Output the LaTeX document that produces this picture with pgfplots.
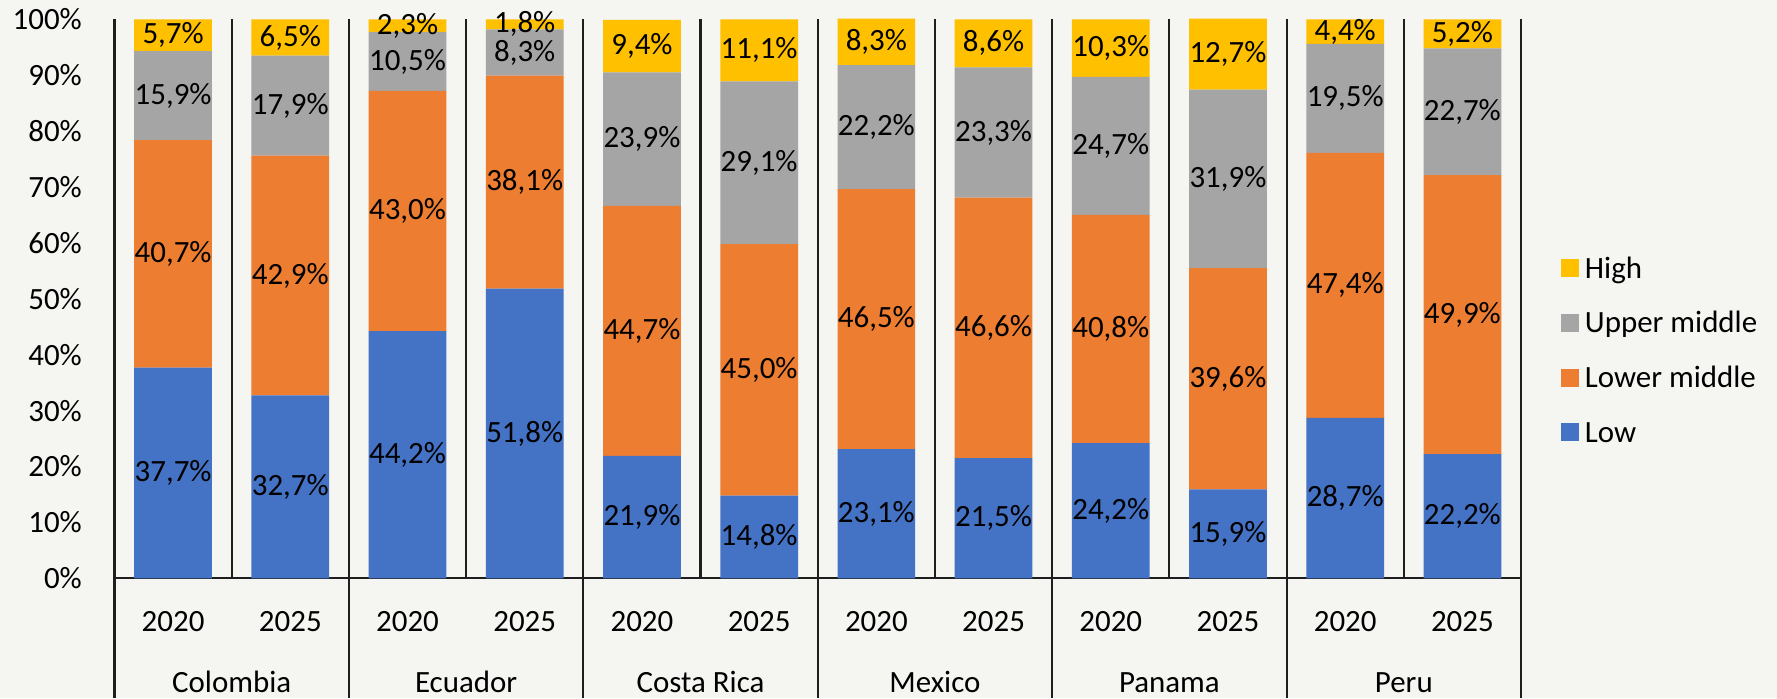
\documentclass[border=0pt]{standalone}
\usepackage{pgfplots}
\pgfplotsset{compat=1.18}
\usepackage{pgfplotstable}
\usepackage{fontspec}
\setmainfont{Carlito}

\definecolor{bgc}{RGB}{245,245,241}
\definecolor{cLow}{RGB}{68,114,196}
\definecolor{cLm}{RGB}{237,125,49}
\definecolor{cUm}{RGB}{165,165,165}
\definecolor{cHigh}{RGB}{255,192,0}
\definecolor{axc}{RGB}{30,30,30}
\newcommand{\cf}{\fontsize{8.8pt}{10.5pt}\selectfont}

% income-class shares, Colombia..Peru, 2020/2025 per country
\pgfplotstableread{
x  low  lm   um   high
0  37.7 40.7 15.9 5.7
1  32.7 42.9 17.9 6.5
2  44.2 43.0 10.5 2.3
3  51.8 38.1 8.3  1.8
4  21.9 44.7 23.9 9.4
5  14.8 45.0 29.1 11.1
6  23.1 46.5 22.2 8.3
7  21.5 46.6 23.3 8.6
8  24.2 40.8 24.7 10.3
9  15.9 39.6 31.9 12.7
10 28.7 47.4 19.5 4.4
11 22.2 49.9 22.7 5.2
}\shares

\pgfplotsset{
  seg/.style={fill=#1, draw=none,
    legend image code/.code={\fill[##1] (0mm,-0.9mm) rectangle (1.8mm,0.9mm);}},
}

\begin{document}
\cf
\begin{tikzpicture}
\path[use as bounding box, fill=bgc] (-11.45mm,-12mm) rectangle (166.25mm,57.83mm);
\begin{axis}[
    at={(0,0)}, anchor=south west,
    scale only axis, width=140.65mm, height=55.9mm,
    ybar stacked, bar width=0.663,
    xmin=-0.5, xmax=11.5, ymin=0, ymax=100,
    clip=false,
    axis line style={draw=none},
    major tick length=0pt, tick style={draw=none},
    /pgf/number format/assume math mode=true,
    ytick={0,10,...,100},
    yticklabels={0\%,10\%,20\%,30\%,40\%,50\%,60\%,70\%,80\%,90\%,100\%},
    yticklabel style={anchor=east, inner sep=0pt, xshift=-3.2mm, font=\cf},
    xtick={0,...,11},
    xticklabels={2020,2025,2020,2025,2020,2025,2020,2025,2020,2025,2020,2025},
    xticklabel style={anchor=base, inner sep=0pt, yshift=-5.35mm, font=\cf},
    point meta=explicit,
    nodes near coords={\pgfmathprintnumber[fixed,fixed zerofill,precision=1,use comma,assume math mode=true]{\pgfplotspointmeta}\%},
    every node near coord/.append style={anchor=center, inner sep=0pt, font=\cf, text=black},
    reverse legend,
    legend style={at={(1.0284,0.408)}, anchor=west, draw=none, fill=none,
      inner sep=0pt, outer sep=0pt, row sep=2.87mm, column sep=0.6mm, font=\cf,
      nodes={inner sep=0pt, text height=2.3mm, text depth=0.3mm, anchor=west},
      cells={anchor=west}},
]
\addplot[seg=cLow] table[x=x, y=low, meta=low] {\shares};
\addlegendentry{Low}
\addplot[seg=cLm] table[x=x, y=lm, meta=lm] {\shares};
\addlegendentry{Lower middle}
\addplot[seg=cUm] table[x=x, y=um, meta=um] {\shares};
\addlegendentry{Upper middle}
\addplot[seg=cHigh] table[x=x, y=high, meta=high] {\shares};
\addlegendentry{High}

% separators
\draw[axc, line width=0.6pt] (axis cs:-0.5,0) -- (axis cs:11.5,0);
\pgfplotsinvokeforeach{0.5,2.5,4.5,6.5,8.5,10.5}{
  \draw[axc, line width=0.6pt] (axis cs:#1,0) -- (axis cs:#1,100);
}
\pgfplotsinvokeforeach{-0.5,1.5,3.5,5.5,7.5,9.5,11.5}{
  \draw[axc, line width=0.6pt] (axis cs:#1,100) -- ([yshift=-12mm]axis cs:#1,0);
}
\node[anchor=base, font=\cf, yshift=-11.4mm] at (axis cs:0.5,0) {Colombia};
\node[anchor=base, font=\cf, yshift=-11.4mm] at (axis cs:2.5,0) {Ecuador};
\node[anchor=base, font=\cf, yshift=-11.4mm] at (axis cs:4.5,0) {Costa Rica};
\node[anchor=base, font=\cf, yshift=-11.4mm] at (axis cs:6.5,0) {Mexico};
\node[anchor=base, font=\cf, yshift=-11.4mm] at (axis cs:8.5,0) {Panama};
\node[anchor=base, font=\cf, yshift=-11.4mm] at (axis cs:10.5,0) {Peru};
\end{axis}
\end{tikzpicture}
\end{document}
